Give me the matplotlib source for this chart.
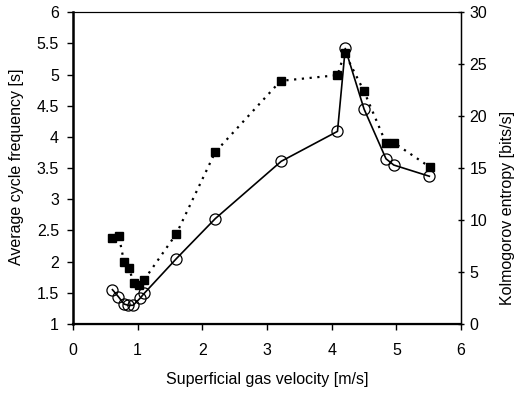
import numpy as np
import matplotlib.pyplot as plt

plt.rcParams['font.family'] = ['Liberation Sans', 'DejaVu Sans']

# Average cycle frequency (left axis), open circles
vel_freq = [0.61, 0.70, 0.79, 0.855, 0.93, 1.035, 1.10, 1.60, 2.20, 3.22, 4.09, 4.21, 4.50, 4.84, 4.96, 5.51]
freq = [1.55, 1.44, 1.32, 1.30, 1.30, 1.41, 1.49, 2.05, 2.69, 3.61, 4.09, 5.42, 4.45, 3.65, 3.55, 3.37]

# Kolmogorov entropy (right axis), filled squares
vel_ent = [0.61, 0.71, 0.79, 0.865, 0.94, 1.025, 1.10, 1.60, 2.20, 3.21, 4.09, 4.20, 4.50, 4.84, 4.96, 5.52]
entropy = [8.3, 8.45, 5.95, 5.4, 3.9, 3.75, 4.25, 8.7, 16.55, 23.4, 23.95, 26.1, 22.4, 17.4, 17.45, 15.1]

xticks = [0, 1, 2, 3, 4, 5, 6]
left_ticks = [1, 1.5, 2, 2.5, 3, 3.5, 4, 4.5, 5, 5.5, 6]
left_labels = ['1', '1.5', '2', '2.5', '3', '3.5', '4', '4.5', '5', '5.5', '6']
right_ticks = [0, 5, 10, 15, 20, 25, 30]

fs = 11.5

fig = plt.figure(figsize=(5.17, 3.93), dpi=100)
ax = fig.add_axes([0.1412, 0.1756, 0.7505, 0.7931])

ax.plot(vel_freq, freq, color='black', lw=1.2, marker='o', markersize=8,
        markerfacecolor='none', markeredgecolor='black', markeredgewidth=0.9)
ax.set_xlim(0, 6)
ax.set_ylim(1, 6)
ax.set_xticks(xticks)
ax.set_yticks(left_ticks)
ax.set_yticklabels(left_labels)
ax.tick_params(axis='both', labelsize=fs, length=4, width=1, color='black')
ax.tick_params(axis='x', pad=10)
ax.tick_params(axis='y', pad=6)
ax.spines['left'].set_linewidth(1.8)
ax.spines['bottom'].set_linewidth(1.6)
ax.spines['top'].set_linewidth(0.8)
ax.spines['right'].set_linewidth(0.8)
ax.set_xlabel('Superficial gas velocity [m/s]', fontsize=fs, labelpad=10)

# Right axis
ax2 = ax.twinx()
ax2.plot(vel_ent, entropy, color='black', lw=1.6, linestyle=(0, (1, 2.5)),
         marker='s', markersize=6, markerfacecolor='black', markeredgecolor='black')
ax2.set_ylim(0, 30)
ax2.set_yticks(right_ticks)
ax2.tick_params(axis='y', labelsize=fs, length=4, width=1, direction='inout', pad=4)
ax2.spines['right'].set_linewidth(1.0)

fig.text(0.032, 0.575, 'Average cycle frequency [s]', rotation=90, fontsize=fs,
         ha='center', va='center')
fig.text(0.982, 0.47, 'Kolmogorov entropy [bits/s]', rotation=90, fontsize=fs,
         ha='center', va='center')

plt.savefig('out.png', dpi=100)
